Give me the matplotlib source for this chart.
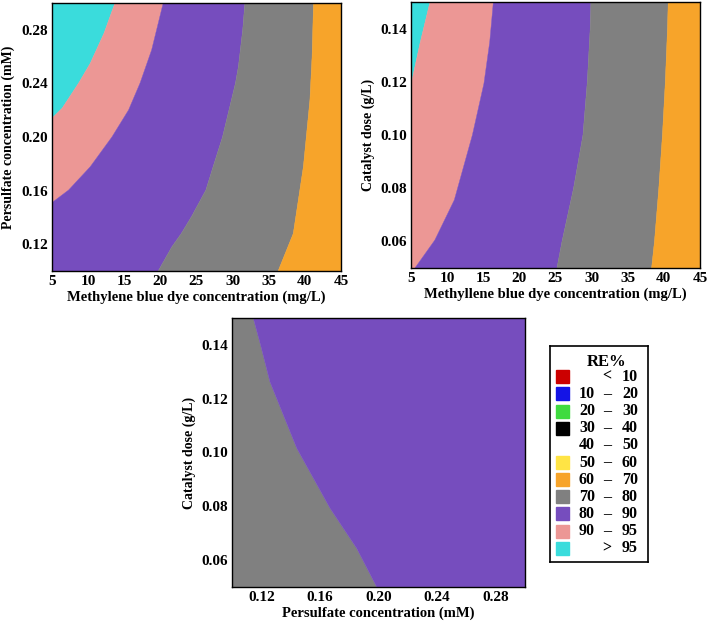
import numpy as np
import matplotlib
matplotlib.use("Agg")
import matplotlib.pyplot as plt
from matplotlib.patches import Rectangle

plt.rcParams["font.family"] = ["Liberation Serif", "DejaVu Serif"]
plt.rcParams["font.weight"] = "bold"

# colour classes of RE%
re_low = ["", "10", "20", "30", "40", "50", "60", "70", "80", "90", ""]
re_high = ["10", "20", "30", "40", "50", "60", "70", "80", "90", "95", "95"]
re_colors = ["#cc0000", "#1414e6", "#3fdb3f", "#000000", "none", "#ffe445",
             "#f7a42a", "#808080", "#764dbe", "#ec9795", "#3adcdc"]

# panel 1: dye (x) vs persulfate (y), contour boundaries read as (y, x)
p1_y_cp = [0.10, 0.214, 0.2214, 0.2403, 0.2550, 0.2774, 0.30]
p1_x_cp = [5.0, 5.0, 6.4, 8.7, 10.3, 12.2, 13.72]
p1_y_pv = [0.10, 0.151, 0.1604, 0.1778, 0.20, 0.2201, 0.2403, 0.265, 0.30]
p1_x_pv = [5.0, 5.0, 7.3, 10.3, 13.3, 15.6, 17.2, 18.8, 20.4]
p1_y_vg = [0.10, 0.1181, 0.128, 0.1405, 0.1604, 0.1778, 0.20, 0.2403, 0.2525, 0.28, 0.30]
p1_x_vg = [19.7, 21.6, 22.9, 24.3, 26.3, 27.3, 28.6, 30.4, 30.8, 31.4, 31.7]
p1_y_go = [0.10, 0.128, 0.178, 0.2276, 0.26, 0.30]
p1_x_go = [36.3, 38.4, 39.8, 40.7, 41.0, 41.2]

# panel 2: dye (x) vs catalyst (y)
p2_y_cp = [0.05, 0.1188, 0.1345, 0.15]
p2_x_cp = [5.0, 5.0, 6.25, 7.63]
p2_y_pv = [0.05, 0.0605, 0.0756, 0.10, 0.1194, 0.135, 0.15]
p2_x_pv = [5.55, 8.3, 11.0, 13.5, 15.1, 15.9, 16.4]
p2_y_vg = [0.05, 0.06, 0.08, 0.10, 0.12, 0.14, 0.15]
p2_x_vg = [25.2, 25.9, 27.5, 28.8, 29.4, 29.8, 29.9]
p2_y_go = [0.05, 0.06, 0.08, 0.10, 0.12, 0.14, 0.15]
p2_x_go = [38.3, 38.7, 39.3, 39.8, 40.2, 40.5, 40.6]

# panel 3: persulfate (x) vs catalyst (y)
p3_y_gv = [0.05, 0.0644, 0.0793, 0.1016, 0.1263, 0.14, 0.15]
p3_x_gv = [0.1988, 0.1851, 0.1669, 0.1442, 0.1259, 0.1195, 0.1145]


def fill_regions(ax, xlim, ylim, bounds, colors):
    # bounds: list of (y, x) curves from left to right
    left = ([ylim[0], ylim[1]], [xlim[0], xlim[0]])
    right = ([ylim[0], ylim[1]], [xlim[1], xlim[1]])
    curves = [left] + bounds + [right]
    for (ya, xa), (yb, xb), c in zip(curves[:-1], curves[1:], colors):
        px = list(xa) + list(xb)[::-1]
        py = list(ya) + list(yb)[::-1]
        ax.fill(px, py, color=c, lw=0.3, ec=c)
    ax.set_xlim(*xlim)
    ax.set_ylim(*ylim)


def style(ax, xlabel, ylabel, xticks, yticks, xfmt, yfmt):
    ax.set_xticks(xticks)
    ax.set_yticks(yticks)
    ax.set_xticklabels([xfmt.format(t) for t in xticks])
    ax.set_yticklabels([yfmt.format(t) for t in yticks])
    ax.tick_params(length=0, labelsize=11, pad=3)
    for sp in ax.spines.values():
        sp.set_linewidth(1.0)
    ax.set_xlabel(xlabel, fontsize=10.5, fontweight="bold", labelpad=2)
    ax.set_ylabel(ylabel, fontsize=10, fontweight="bold", labelpad=4)


fg = plt.figure(figsize=(7.08, 6.21), dpi=100)

ax1 = fg.add_axes([0.0734, 0.5636, 0.4082, 0.4316])
fill_regions(ax1, (5, 45), (0.10, 0.30),
             [(p1_y_cp, p1_x_cp), (p1_y_pv, p1_x_pv), (p1_y_vg, p1_x_vg), (p1_y_go, p1_x_go)],
             [re_colors[10], re_colors[9], re_colors[8], re_colors[7], re_colors[6]])
style(ax1, "Methylene blue dye concentration (mg/L)", "Persulfate concentration (mM)",
      [5, 10, 15, 20, 25, 30, 35, 40, 45], [0.12, 0.16, 0.20, 0.24, 0.28], "{:d}", "{:.2f}")

ax2 = fg.add_axes([0.5805, 0.5684, 0.4082, 0.4284])
fill_regions(ax2, (5, 45), (0.05, 0.15),
             [(p2_y_cp, p2_x_cp), (p2_y_pv, p2_x_pv), (p2_y_vg, p2_x_vg), (p2_y_go, p2_x_go)],
             [re_colors[10], re_colors[9], re_colors[8], re_colors[7], re_colors[6]])
style(ax2, "Methyllene blue dye concentration (mg/L)", "Catalyst dose (g/L)",
      [5, 10, 15, 20, 25, 30, 35, 40, 45], [0.06, 0.08, 0.10, 0.12, 0.14], "{:d}", "{:.2f}")

ax3 = fg.add_axes([0.3277, 0.0548, 0.4138, 0.4331])
fill_regions(ax3, (0.10, 0.30), (0.05, 0.15), [(p3_y_gv, p3_x_gv)],
             [re_colors[7], re_colors[8]])
style(ax3, "Persulfate concentration (mM)", "Catalyst dose (g/L)",
      [0.12, 0.16, 0.20, 0.24, 0.28], [0.06, 0.08, 0.10, 0.12, 0.14], "{:.2f}", "{:.2f}")

# %% legend box
lg = fg.add_axes([0.7768, 0.095, 0.1384, 0.3478])
lg.set_xlim(550, 648)
lg.set_ylim(562, 346)
lg.set_xticks([])
lg.set_yticks([])
for sp in lg.spines.values():
    sp.set_linewidth(1.2)
lg.text(607, 362, "RE%", ha="center", va="center", fontsize=12, fontweight="bold")
for i, (lo, hi, c) in enumerate(zip(re_low, re_high, re_colors)):
    yc = 376.7 + i * 17.16
    if c != "none":
        lg.add_patch(Rectangle((555.7, yc - 6.5), 13.3, 13, color=c))
    sym = "<" if i == 0 else (">" if i == len(re_low) - 1 else "\u2013")
    lg.text(579, yc, lo, ha="left", va="center", fontsize=11.5, fontweight="bold")
    lg.text(607, yc, sym, ha="center", va="center", fontsize=11.5, fontweight="bold")
    lg.text(638, yc, hi, ha="right", va="center", fontsize=11.5, fontweight="bold")

fg.savefig("out.png", dpi=100)
